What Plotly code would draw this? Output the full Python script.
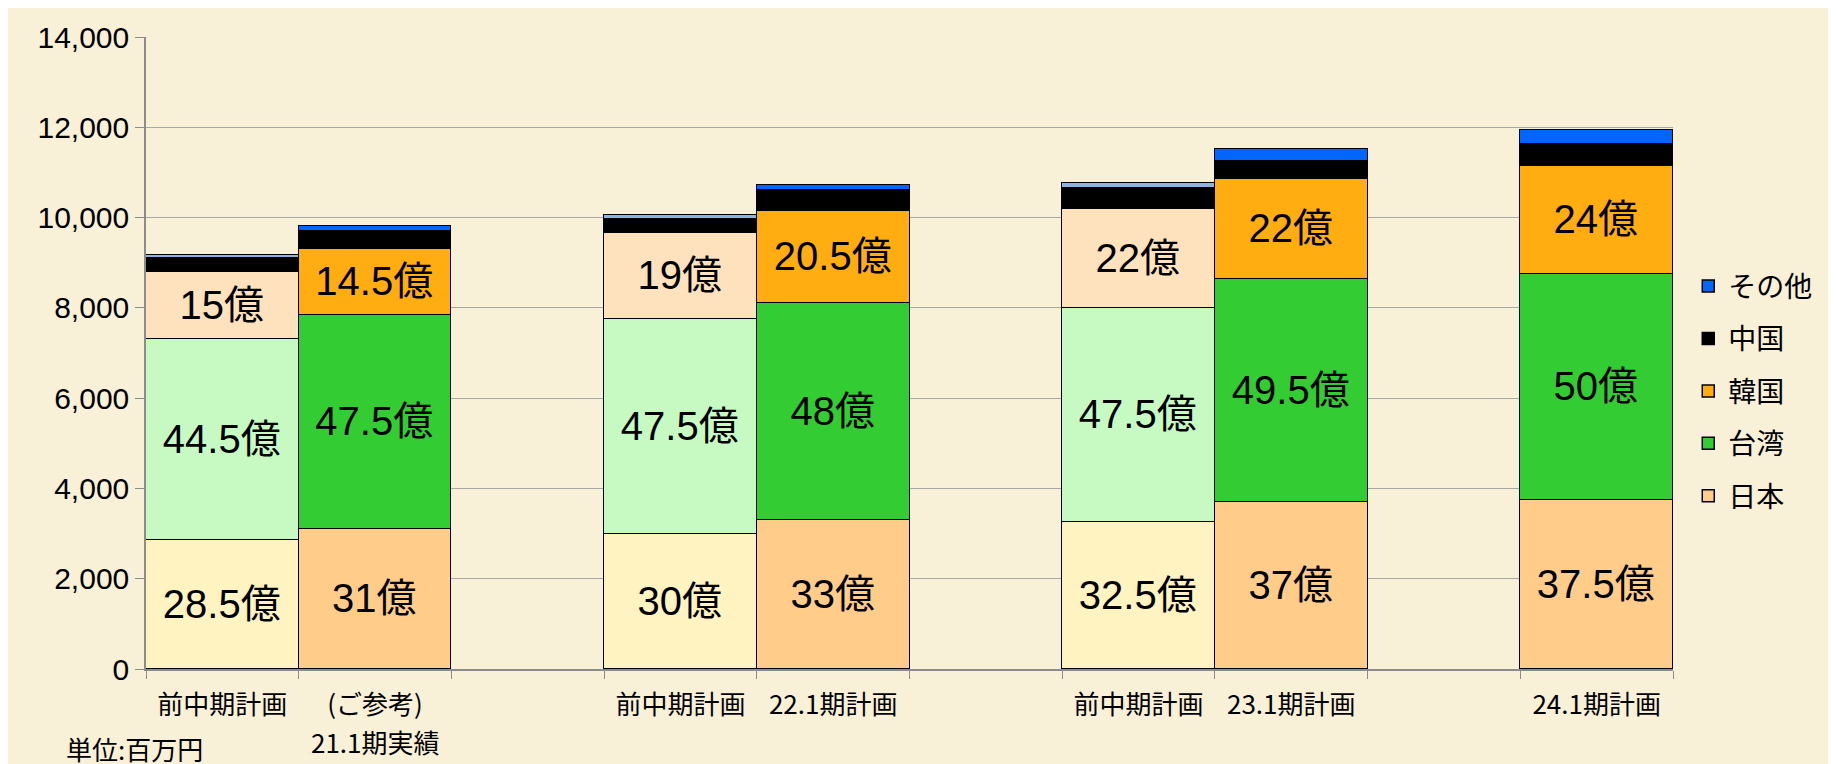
import plotly.graph_objects as go

# Category slots (gaps between groups are empty slots)
categories = ["p21", "a21", "g1", "p22", "a22", "g2", "p23", "a23", "g3", "a24"]
tick_labels = ["前中期計画", "(ご参考)", "", "前中期計画", "22.1期計画", "",
               "前中期計画", "23.1期計画", "", "24.1期計画"]
second_line_label = "21.1期実績"
second_line_slot = "a21"

prev_slots = ["p21", "p22", "p23"]
plan_slots = ["a21", "a22", "a23", "a24"]

series_names = ["日本", "台湾", "韓国", "中国", "その他"]

# 前中期計画 values (百万円)
japan_prev = [2850, 3000, 3250]
taiwan_prev = [4450, 4750, 4750]
korea_prev = [1500, 1900, 2200]
china_prev = [300, 320, 460]
other_prev = [70, 90, 110]

# 実績 / 期計画 values (百万円)
japan_plan = [3100, 3300, 3700, 3750]
taiwan_plan = [4750, 4800, 4950, 5000]
korea_plan = [1450, 2050, 2200, 2400]
china_plan = [400, 450, 400, 470]
other_plan = [120, 120, 260, 330]

prev_values = [japan_prev, taiwan_prev, korea_prev, china_prev, other_prev]
plan_values = [japan_plan, taiwan_plan, korea_plan, china_plan, other_plan]
labelled = [True, True, True, False, False]

prev_colors = ["#FFF3C2", "#C6FAC2", "#FDE2BD", "#000000", "#8EB4E3"]
plan_colors = ["#FFCC8A", "#33CC33", "#FFAD10", "#000000", "#0066FF"]

FONT = "Liberation Sans, Arial, Noto Sans CJK JP, sans-serif"
CJK = "Noto Sans CJK JP, sans-serif"


def spread(slots, vals):
    m = dict(zip(slots, vals))
    return [m.get(c) for c in categories]


def label_text(slots, vals, show):
    if not show:
        return None
    m = dict(zip(slots, vals))
    return [f"{m[c] / 100:g}億" if c in m else "" for c in categories]


fig = go.Figure()
n = len(series_names)
for i, (name, pv, lv, show, pc, ac) in enumerate(zip(series_names, prev_values, plan_values,
                                                      labelled, prev_colors, plan_colors)):
    for slots, vals, color, legend in ((prev_slots, pv, pc, False), (plan_slots, lv, ac, True)):
        fig.add_trace(go.Bar(
            x=categories,
            y=spread(slots, vals),
            name=name,
            legendgroup=name,
            legendrank=(n - i) * 10,
            showlegend=legend,
            marker=dict(color=color, line=dict(color="#000000", width=1.5)),
            text=label_text(slots, vals, show),
            textposition="inside" if show else "none",
            insidetextanchor="middle",
            textangle=0,
            textfont=dict(size=40, color="#000000", family=FONT),
            hoverinfo="skip",
        ))

fig.update_layout(
    width=1836,
    height=764,
    barmode="stack",
    bargap=0,
    paper_bgcolor="#F9F0D8",
    plot_bgcolor="#F9F0D8",
    margin=dict(l=138, r=171, t=20, b=103),
    font=dict(family=FONT, color="#000000"),
    legend=dict(
        x=1.010, xanchor="left", y=0.44, yanchor="middle",
        traceorder="grouped", tracegroupgap=13,
        font=dict(size=28, family=CJK),
        bgcolor="rgba(0,0,0,0)",
    ),
    xaxis=dict(
        type="category",
        categoryorder="array",
        categoryarray=categories,
        tickmode="array",
        tickvals=categories,
        ticktext=tick_labels,
        tickson="boundaries",
        ticks="outside",
        ticklen=8,
        tickcolor="#8C8C8C",
        ticklabelstandoff=12,
        showline=True,
        linecolor="#8C8C8C",
        linewidth=1.5,
        tickfont=dict(size=26, family=CJK),
        showgrid=False,
    ),
    yaxis=dict(
        range=[0, 14000],
        dtick=2000,
        tickformat=",d",
        ticks="outside",
        ticklen=9,
        tickcolor="#8C8C8C",
        showline=True,
        linecolor="#8C8C8C",
        linewidth=1.5,
        showgrid=True,
        gridcolor="#A8A8A8",
        gridwidth=1.2,
        zeroline=False,
        tickfont=dict(size=30, family=FONT),
    ),
    annotations=[
        dict(
            text="単位:百万円", xref="paper", yref="paper",
            x=-0.054, y=-0.125, xanchor="left", yanchor="middle",
            showarrow=False, font=dict(size=26, family=CJK),
        ),
        dict(
            text=second_line_label, xref="x", yref="paper",
            x=second_line_slot, y=-0.114, xanchor="center", yanchor="middle",
            showarrow=False, font=dict(size=26, family=CJK),
        ),
    ],
)

fig.write_html("out.html")
